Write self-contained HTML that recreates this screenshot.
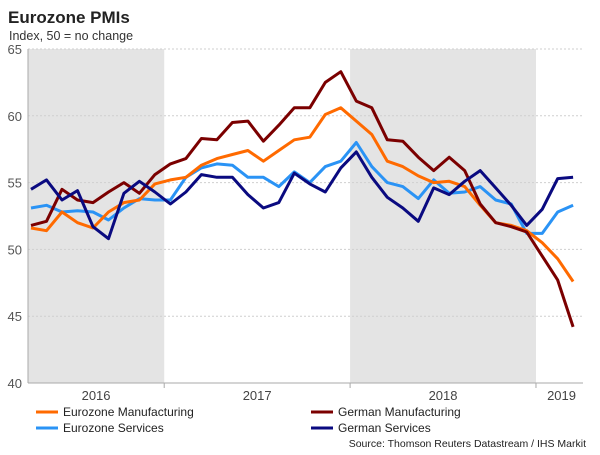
<!DOCTYPE html>
<html><head><meta charset="utf-8"><style>
body{margin:0;background:#fff;font-family:"Liberation Sans",Arial,sans-serif}
svg text{font-family:"Liberation Sans",Arial,sans-serif}
</style></head><body>
<svg id="c" width="600" height="450">
<text x="8" y="23" font-size="17" font-weight="bold" fill="#222">Eurozone PMIs</text>
<text x="9" y="40" font-size="12.5" fill="#333">Index, 50 = no change</text>
<g id="bands"></g><g id="grid"></g><g id="series"></g><g id="axes"></g>
<g>
<line x1="36" y1="412" x2="58" y2="412" stroke="#ff6a00" stroke-width="3"/>
<text x="63" y="416" font-size="12" fill="#222">Eurozone Manufacturing</text>
<line x1="311" y1="412" x2="333" y2="412" stroke="#7b0000" stroke-width="3"/>
<text x="338" y="416" font-size="12" fill="#222">German Manufacturing</text>
<line x1="36" y1="428" x2="58" y2="428" stroke="#2a93f5" stroke-width="3"/>
<text x="63" y="432" font-size="12" fill="#222">Eurozone Services</text>
<line x1="311" y1="428" x2="333" y2="428" stroke="#0a0a80" stroke-width="3"/>
<text x="338" y="432" font-size="12" fill="#222">German Services</text>
</g>
<text x="586" y="447" font-size="10.5" fill="#222" text-anchor="end">Source: Thomson Reuters Datastream / IHS Markit</text>
</svg>
<script>
const germanMfg=[51.8,52.1,54.5,53.7,53.5,54.3,55.0,54.2,55.6,56.4,56.8,58.3,58.2,59.5,59.6,58.1,59.3,60.6,60.6,62.5,63.3,61.1,60.6,58.2,58.1,56.9,55.9,56.9,55.9,53.4,52.0,51.7,51.3,49.5,47.7,44.2];
const euroMfg=[51.6,51.4,52.8,52.0,51.6,52.8,53.5,53.7,54.9,55.2,55.4,56.3,56.8,57.1,57.4,56.6,57.4,58.2,58.4,60.1,60.6,59.6,58.6,56.6,56.2,55.5,55.0,55.1,54.7,53.3,52.0,51.8,51.4,50.5,49.3,47.6];
const euroSvc=[53.1,53.3,52.8,52.9,52.8,52.2,53.1,53.8,53.7,53.7,55.4,56.1,56.4,56.3,55.4,55.4,54.7,55.8,55.0,56.2,56.6,58.0,56.2,55.0,54.7,53.8,55.2,54.2,54.3,54.7,53.7,53.4,51.2,51.2,52.8,53.3];
const germanSvc=[54.5,55.2,53.7,54.4,51.7,50.8,54.2,55.1,54.3,53.4,54.3,55.6,55.4,55.4,54.1,53.1,53.5,55.7,54.9,54.3,56.1,57.3,55.4,53.9,53.1,52.1,54.6,54.1,55.1,55.9,54.6,53.3,51.8,53.0,55.3,55.4];
const yTicks=[40,45,50,55,60,65];
const years=["2016","2017","2018","2019"];
const yearBounds=[-0.2,8.6,20.6,32.6,35.9];

const NS="http://www.w3.org/2000/svg";
const x0=31,dx=15.49,yTop=49,yBot=383,vMin=40,vMax=65;
const X=i=>x0+i*dx;
const Y=v=>yBot-(v-vMin)/(vMax-vMin)*(yBot-yTop);
function mk(p,t,a){const e=document.createElementNS(NS,t);for(const k in a)e.setAttribute(k,a[k]);p.appendChild(e);return e;}
const bands=document.getElementById('bands'),grid=document.getElementById('grid'),ser=document.getElementById('series'),ax=document.getElementById('axes');
[0,2].forEach(k=>{
 const r=mk(bands,'rect',{x:X(yearBounds[k]),y:yTop,width:X(yearBounds[k+1])-X(yearBounds[k]),height:yBot-yTop,fill:'#e4e4e4'});
 
 
});
yTicks.forEach(v=>{
 if(v>vMin){const l=mk(grid,'line',{x1:28,x2:583,y1:Y(v),y2:Y(v),stroke:'#cfcfcf','stroke-dasharray':'2,2'});
 
 }
 const t=mk(ax,'text',{x:22,y:Y(v)+5,'font-size':13,fill:'#555','text-anchor':'end'});t.textContent=v;
 
 
});
mk(ax,'line',{x1:28,x2:28,y1:yTop,y2:yBot,stroke:'#aaa'});
mk(ax,'line',{x1:28,x2:583,y1:yBot,y2:yBot,stroke:'#aaa'});
years.forEach((yr,k)=>{
 if(k>0){mk(ax,'line',{x1:X(yearBounds[k]),x2:X(yearBounds[k]),y1:yBot,y2:yBot+5,stroke:'#aaa'});}
 const t=mk(ax,'text',{x:(X(yearBounds[k])+X(yearBounds[k+1]))/2,y:yBot+17,'font-size':13,fill:'#444','text-anchor':'middle'});t.textContent=yr;
 
 
});
const defs=[[euroSvc,'#2a93f5','eurozone-services-line'],[euroMfg,'#ff6a00','eurozone-manufacturing-line'],[germanMfg,'#7b0000','german-manufacturing-line'],[germanSvc,'#0a0a80','german-services-line']];
defs.forEach(([d,c,n])=>{
 const p=mk(ser,'polyline',{points:d.map((v,i)=>X(i).toFixed(1)+','+Y(v).toFixed(1)).join(' '),fill:'none',stroke:c,'stroke-width':3,'stroke-linejoin':'round'});
 
 
});
</script>
</body></html>
